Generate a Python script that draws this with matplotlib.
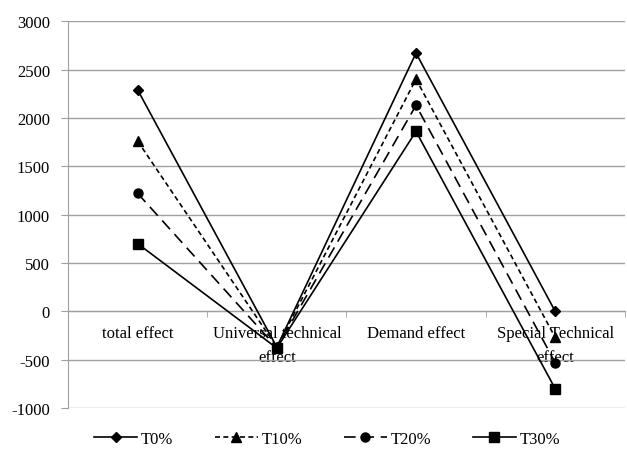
import matplotlib
matplotlib.use("Agg")
import matplotlib.pyplot as plt

categories = ["total effect", "Universal technical\neffect", "Demand effect", "Special Technical\neffect"]
series_names = ["T0%", "T10%", "T20%", "T30%"]
t0 = [2290, -370, 2670, 0]
t10 = [1760, -370, 2400, -270]
t20 = [1220, -375, 2130, -530]
t30 = [700, -380, 1860, -800]
yticks = [-1000, -500, 0, 500, 1000, 1500, 2000, 2500, 3000]
ytick_labels = ["-1000", "-500", "0", "500", "1000", "1500", "2000", "2500", "3000"]

plt.rcParams['font.family'] = ['Liberation Serif', 'DejaVu Serif']

fig = plt.figure(figsize=(6.27, 4.52), dpi=100)
ax = fig.add_axes([0.1085, 0.095, 0.888, 0.856])

x = [1, 2, 3, 4]
styles = [
    dict(ls='-', marker='D', ms=5.5),
    dict(ls=(0, (3, 2)), marker='^', ms=6.5),
    dict(ls=(0, (7, 4)), marker='o', ms=6.5),
    dict(ls='-', marker='s', ms=6.5),
]
for vals, name, st in zip([t0, t10, t20, t30], series_names, styles):
    ax.plot(x, vals, color='black', lw=1.2, label=name, linestyle=st['ls'],
            marker=st['marker'], markersize=st['ms'], zorder=3)

ax.set_xlim(0.5, 4.5)
ax.set_ylim(-1000, 3000)
ax.set_yticks(yticks)
ax.set_yticklabels(ytick_labels)
ax.yaxis.grid(True, color='#a0a0a0', lw=1)
ax.set_axisbelow(True)
for s in ['top', 'right']:
    ax.spines[s].set_visible(False)
ax.spines['left'].set_color('#a0a0a0')
ax.spines['bottom'].set_position(('data', 0))
ax.spines['bottom'].set_color('#a0a0a0')
ax.tick_params(axis='y', length=5, color='#a0a0a0', labelsize=12, pad=8)
ax.set_xticks(x)
ax.set_xticklabels(categories, fontsize=12, linespacing=1.65)
ax.set_xticks([1.5, 2.5, 3.5, 4.5], minor=True)
ax.tick_params(axis='x', which='major', length=0, pad=10)
ax.tick_params(axis='x', which='minor', length=4, color='#a0a0a0', direction='out')

ax.legend(loc='center', bbox_to_anchor=(0.465, -0.08), ncol=4, frameon=False,
          fontsize=12, handlelength=2.6, columnspacing=2.5, handletextpad=0.2)

fig.savefig("out.png", dpi=100)
